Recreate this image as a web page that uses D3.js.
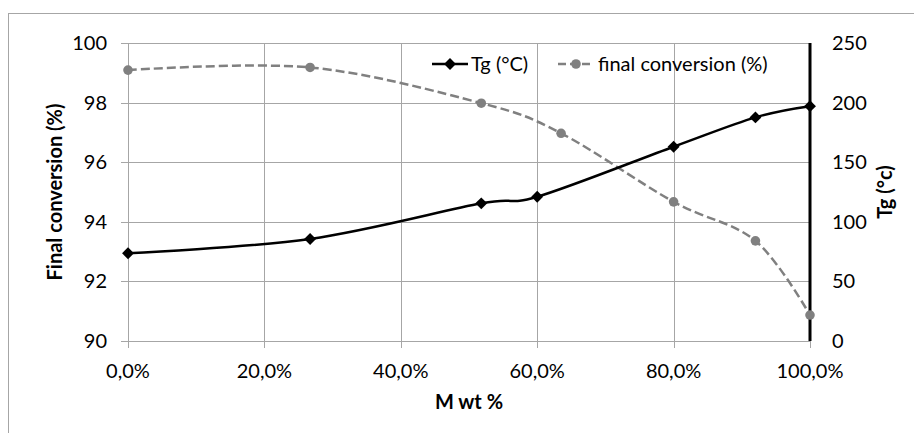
<!DOCTYPE html>
<html>
<head>
<meta charset="utf-8">
<script src="https://cdn.jsdelivr.net/npm/d3@7"></script>
<style>
  body { margin: 0; background: #fff; }
  text { font-family: Lato, "Open Sans", sans-serif; fill: #000; }
</style>
</head>
<body>
<svg id="chart" width="914" height="433"></svg>
<script>
// données
var tg_x = [0, 26.7, 51.8, 60, 80, 92, 100];
var tg_values = [73.6, 85.6, 115.5, 121, 163, 187.6, 197];
var conv_x = [0, 26.7, 51.8, 63.5, 80, 92, 100];
var conv_values = [99.09, 99.18, 97.98, 96.97, 94.67, 93.36, 90.87];
var x_ticks = [0, 20, 40, 60, 80, 100];
var left_ticks = [90, 92, 94, 96, 98, 100];
var right_ticks = [0, 50, 100, 150, 200, 250];

var svg = d3.select("#chart");
var plot_left = 128, plot_right = 810, plot_top = 43, plot_bottom = 341;
var fs = "20px";

// cadre extérieur
svg.append("rect")
   .attr("x", 8.5).attr("y", 13.5)
   .attr("width", 950).attr("height", 500)
   .attr("fill", "none").attr("stroke", "#a6a6a6");

var x = d3.scaleLinear().domain([0, 100]).range([plot_left, plot_right]);
var yl = d3.scaleLinear().domain([90, 100]).range([plot_bottom, plot_top]);
var yr = d3.scaleLinear().domain([0, 250]).range([plot_bottom, plot_top]);

// grille
svg.append("g").selectAll("line")
   .data(left_ticks).enter().append("line")
   .attr("x1", plot_left - 7).attr("x2", plot_right)
   .attr("y1", function(d){ return Math.round(yl(d)) + 0.5; })
   .attr("y2", function(d){ return Math.round(yl(d)) + 0.5; })
   .attr("stroke", "#a6a6a6");

svg.append("g").selectAll("line")
   .data(x_ticks).enter().append("line")
   .attr("x1", function(d){ return Math.round(x(d)) + 0.5; })
   .attr("x2", function(d){ return Math.round(x(d)) + 0.5; })
   .attr("y1", plot_top).attr("y2", plot_bottom + 7)
   .attr("stroke", "#a6a6a6");

// axe de droite (noir, épais)
svg.append("line")
   .attr("x1", plot_right).attr("x2", plot_right)
   .attr("y1", plot_top).attr("y2", plot_bottom)
   .attr("stroke", "#000").attr("stroke-width", 3);

// étiquettes des axes
svg.append("g").selectAll("text")
   .data(left_ticks).enter().append("text")
   .attr("x", 107).attr("y", function(d){ return yl(d); })
   .attr("dy", "0.35em").attr("text-anchor", "end")
   .style("font-size", fs)
   .text(function(d){ return d; });

svg.append("g").selectAll("text")
   .data(right_ticks).enter().append("text")
   .attr("x", 832).attr("y", function(d){ return yr(d); })
   .attr("dy", "0.35em").attr("text-anchor", "start")
   .style("font-size", fs)
   .text(function(d){ return d; });

svg.append("g").selectAll("text")
   .data(x_ticks).enter().append("text")
   .attr("x", function(d){ return x(d); }).attr("y", 378)
   .attr("text-anchor", "middle")
   .style("font-size", fs)
   .text(function(d){ return d.toFixed(1).replace(".", ",") + "%"; });

// titres
svg.append("text")
   .attr("x", (plot_left + plot_right) / 2).attr("y", 409)
   .attr("text-anchor", "middle")
   .style("font-size", fs).style("font-weight", "bold")
   .text("M wt %");

svg.append("text")
   .attr("transform", "translate(62," + ((plot_top + plot_bottom) / 2) + ") rotate(-90)")
   .attr("text-anchor", "middle")
   .style("font-size", fs).style("font-weight", "bold")
   .text("Final conversion (%)");

svg.append("text")
   .attr("transform", "translate(892," + ((plot_top + plot_bottom) / 2) + ") rotate(-90)")
   .attr("text-anchor", "middle")
   .style("font-size", fs).style("font-weight", "bold")
   .text("Tg (°c)");

// courbes lissées
var conv_data = conv_x.map(function(d, i){ return [d, conv_values[i]]; });
var tg_data = tg_x.map(function(d, i){ return [d, tg_values[i]]; });

var conv_line = d3.line()
   .x(function(d){ return x(d[0]); })
   .y(function(d){ return yl(d[1]); })
   .curve(d3.curveCardinal.tension(0));

var tg_line = d3.line()
   .x(function(d){ return x(d[0]); })
   .y(function(d){ return yr(d[1]); })
   .curve(d3.curveCardinal.tension(0));

svg.append("path")
   .attr("d", conv_line(conv_data))
   .attr("fill", "none").attr("stroke", "#808080")
   .attr("stroke-width", 2.5).attr("stroke-dasharray", "9,4");

svg.append("g").selectAll("circle")
   .data(conv_data).enter().append("circle")
   .attr("cx", function(d){ return x(d[0]); })
   .attr("cy", function(d){ return yl(d[1]); })
   .attr("r", 4.8).attr("fill", "#808080");

svg.append("path")
   .attr("d", tg_line(tg_data))
   .attr("fill", "none").attr("stroke", "#000")
   .attr("stroke-width", 2.5);

var diamond = d3.symbol().type(d3.symbolDiamond2).size(90);
svg.append("g").selectAll("path")
   .data(tg_data).enter().append("path")
   .attr("transform", function(d){ return "translate(" + x(d[0]) + "," + yr(d[1]) + ")"; })
   .attr("d", diamond).attr("fill", "#000");

// légende
var legend = svg.append("g");
legend.append("line")
   .attr("x1", 432).attr("x2", 468).attr("y1", 64).attr("y2", 64)
   .attr("stroke", "#000").attr("stroke-width", 2.5);
legend.append("path")
   .attr("transform", "translate(450,64)")
   .attr("d", diamond).attr("fill", "#000");
legend.append("text")
   .attr("x", 471).attr("y", 64).attr("dy", "0.35em")
   .style("font-size", fs).text("Tg (°C)");

legend.append("line")
   .attr("x1", 558).attr("x2", 594).attr("y1", 64).attr("y2", 64)
   .attr("stroke", "#808080").attr("stroke-width", 2.5)
   .attr("stroke-dasharray", "8,4");
legend.append("circle")
   .attr("cx", 576).attr("cy", 64).attr("r", 4.8).attr("fill", "#808080");
legend.append("text")
   .attr("x", 598).attr("y", 64).attr("dy", "0.35em")
   .style("font-size", fs).text("final conversion (%)");
</script>
</body>
</html>
